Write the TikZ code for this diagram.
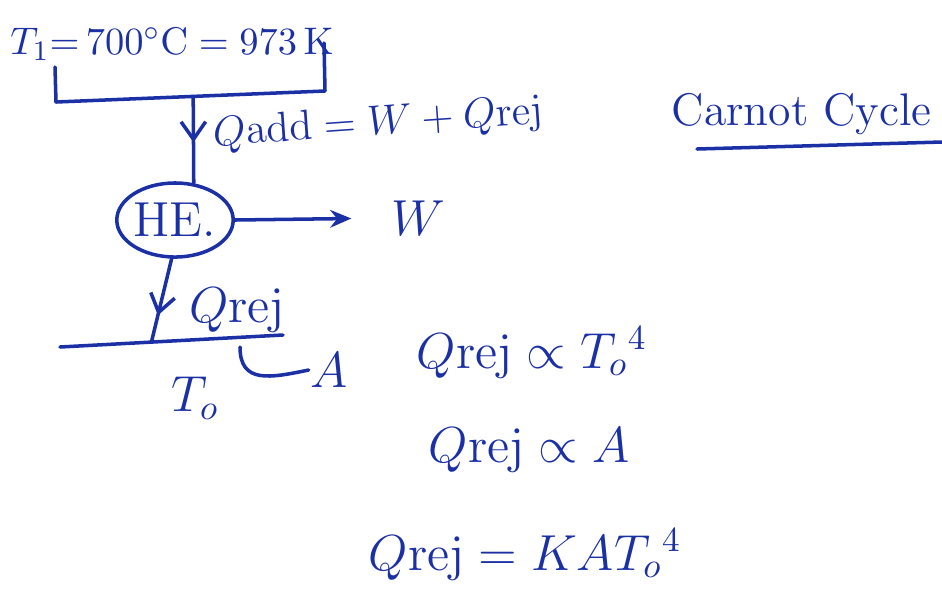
\documentclass[tikz,border=0pt]{standalone}
\usepackage{amsmath,amssymb}
\usepackage{tikz}
\usetikzlibrary{shapes.geometric,arrows.meta,decorations.markings,calc}
\definecolor{ink}{RGB}{28,48,165}

\begin{document}
\begin{tikzpicture}[x=0.01cm, y=-0.01cm, color=ink, line width=1pt, line cap=round, line join=round,
  lbl/.style={inner sep=0pt, font=\fontsize{14}{17}\selectfont},
  eng/.style={ellipse, draw, minimum width=1.04cm, minimum height=0.74cm, inner sep=0pt, font=\fontsize{14}{17}\selectfont},
  barb/.style={postaction={decorate}, decoration={markings, mark=at position #1 with {\arrow{Straight Barb[length=5pt,width=7pt]}}}},
  flow/.style={-{Stealth[open,length=6pt,width=5pt]}}]
\useasboundingbox (0,0) rectangle (942,611);
\node[lbl, font=\fontsize{11}{13}\selectfont] (hot) at (172,44) {$T_1{=}\,700^\circ\mathrm{C}\;{=}\;973\,\mathrm{K}$};
\draw (55,67) -- (56,102) coordinate (hb) -- (325,91) coordinate (hr) -- (324,43);
\coordinate (qin) at ($(hb)!0.51!(hr)$);
\node[eng] (he) at (175,220) {HE.};
\draw[barb=0.53] (qin) -- (he.63);
\node[lbl, font=\fontsize{11.5}{14}\selectfont, rotate=4] (qadd) at (378,124) {$Q\mathrm{add} = W + Q\mathrm{rej}$};
\node[lbl] (w) at (418,218) {$W$};
\draw[flow, shorten >=0.38cm] (he.east) -- (w.west);
\coordinate (c1) at (60,347); \coordinate (c2) at (283,335);
\draw (c1) -- (c2);
\draw[barb=0.68] (he.265) -- ($(c1)!0.41!(c2)$);
\node[lbl] (qrej) at (237,310) {$Q\mathrm{rej}$};
\node[lbl] (to) at (195,398) {$T_o$};
\node[lbl] (area) at (329,370) {$A$};
\coordinate (hk) at (240,347);
\draw (hk) .. controls (240,384) and (270,378) .. (area.west);
\node[lbl, anchor=base west] (eq1) at (415,368) {$Q\mathrm{rej} \propto T_o{}^4$};
\node[lbl, anchor=base west] (eq2) at (427,462) {$Q\mathrm{rej} \propto A$};
\node[lbl, anchor=base west] (eq3) at (367,570) {$Q\mathrm{rej} = KAT_o{}^4$};
\node[lbl, font=\fontsize{13}{16}\selectfont, anchor=base west] (title) at (670,125) {Carnot Cycle};
\draw ($(title.base west)+(27,24)$) -- ($(title.base west)+(272,17)$);
\end{tikzpicture}
\end{document}
